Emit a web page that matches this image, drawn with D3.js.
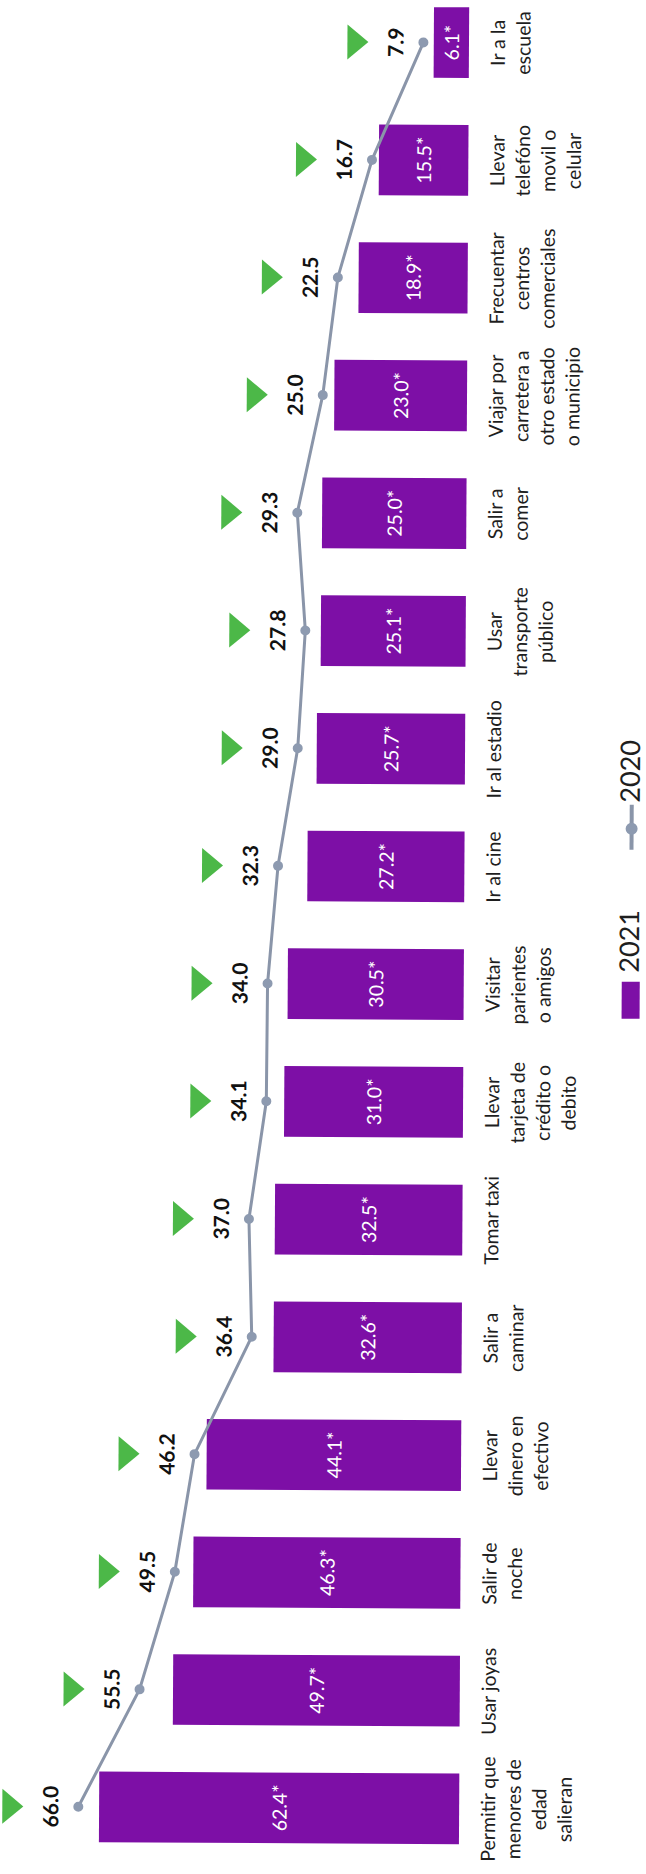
<!DOCTYPE html>
<html>
<head>
<meta charset="utf-8">
<script src="https://cdn.jsdelivr.net/npm/d3@7"></script>
<style>
	body { margin: 0; background: #fff; }
	svg { display: block; }
</style>
</head>
<body>
<div id="container"></div>
<script>
var WIDTH = 646,
	HEIGHT = 1874;

// the chart is laid out upright (HEIGHT wide, WIDTH tall) and then turned on its side
var BASE = 464,
	UNIT = 5.77,
	SKEW = 0.32;

var categories = [
	"Permitir que\nmenores de\nedad\nsalieran",
	"Usar joyas",
	"Salir de\nnoche",
	"Llevar\ndinero en\nefectivo",
	"Salir a\ncaminar",
	"Tomar taxi",
	"Llevar\ntarjeta de\ncrédito o\ndebito",
	"Visitar\nparientes\no amigos",
	"Ir al cine",
	"Ir al estadio",
	"Usar\ntransporte\npúblico",
	"Salir a\ncomer",
	"Viajar por\ncarretera a\notro estado\no municipio",
	"Frecuentar\ncentros\ncomerciales",
	"Llevar\ntelefóno\nmovil o\ncelular",
	"Ir a la\nescuela"
];
var values2021 = [62.4, 49.7, 46.3, 44.1, 32.6, 32.5, 31.0, 30.5, 27.2, 25.7, 25.1, 25.0, 23.0, 18.9, 15.5, 6.1];
var values2020 = [66.0, 55.5, 49.5, 46.2, 36.4, 37.0, 34.1, 34.0, 32.3, 29.0, 27.8, 29.3, 25.0, 22.5, 16.7, 7.9];
var seriesNames = ["2021", "2020"];

var PURPLE = "#7d0fa6",
	GREY = "#8a95a9",
	GREEN = "#4cb848";

var xScale = d3.scaleBand().domain(categories).range([7, 1891]).paddingInner(0.4).paddingOuter(0.2);
var yScale = d3.scaleLinear().domain([0, 70]).range([BASE, BASE - 70 * UNIT]);

var fmt = d3.format(".1f");

var svg = d3.select("#container")
	.append("svg")
	.attr("width", WIDTH)
	.attr("height", HEIGHT)
	.style("font-family", "Lato, 'Open Sans', sans-serif");

var chart = svg.append("g")
	.attr("transform", "rotate(" + SKEW + "," + WIDTH / 2 + "," + HEIGHT / 2 + ") translate(0," + HEIGHT + ") rotate(-90)");

function cx(i) {
	return xScale(categories[i]) + xScale.bandwidth() / 2;
}

// 2021 bars
chart.selectAll("rect.bar").data(values2021).enter()
	.append("rect")
	.classed("bar", true)
	.attr("x", function(d, i) { return xScale(categories[i]); })
	.attr("y", function(d) { return yScale(d); })
	.attr("width", xScale.bandwidth())
	.attr("height", function(d) { return yScale(0) - yScale(d); })
	.attr("fill", PURPLE);

chart.selectAll("text.barLabel").data(values2021).enter()
	.append("text")
	.classed("barLabel", true)
	.attr("x", function(d, i) { return cx(i); })
	.attr("y", function(d) { return (yScale(d) + yScale(0)) / 2; })
	.attr("text-anchor", "middle")
	.attr("dominant-baseline", "central")
	.attr("fill", "#fff")
	.style("font-size", "19.5px")
	.text(function(d) { return fmt(d) + "*"; });

// category labels under the baseline
var catText = chart.selectAll("text.cat").data(categories).enter()
	.append("text")
	.classed("cat", true)
	.attr("text-anchor", "middle")
	.attr("fill", "#1e1e1e")
	.style("font-size", "19.5px");
catText.selectAll("tspan").data(function(d, i) {
		return d.split("\n").map(function(s) { return { s: s, i: i }; });
	}).enter()
	.append("tspan")
	.attr("x", function(d) { return cx(d.i); })
	.attr("y", function(d, j) { return yScale(0) + 36 + j * 25.5; })
	.text(function(d) { return d.s; });

// 2020 line
var line = d3.line()
	.x(function(d, i) { return cx(i); })
	.y(function(d) { return yScale(d); });

chart.append("path")
	.attr("d", line(values2020))
	.attr("fill", "none")
	.attr("stroke", GREY)
	.attr("stroke-width", 3);

chart.selectAll("circle.pt").data(values2020).enter()
	.append("circle")
	.classed("pt", true)
	.attr("cx", function(d, i) { return cx(i); })
	.attr("cy", function(d) { return yScale(d); })
	.attr("r", 5)
	.attr("fill", "#8d9ab0");

chart.selectAll("text.lineLabel").data(values2020).enter()
	.append("text")
	.classed("lineLabel", true)
	.attr("x", function(d, i) { return cx(i); })
	.attr("y", function(d) { return yScale(d) - 20; })
	.attr("text-anchor", "middle")
	.attr("fill", "#111")
	.style("font-size", "21px")
	.style("font-weight", "bold")
	.text(function(d) { return fmt(d); });

// green down markers above each 2020 label
chart.selectAll("path.tri").data(values2020).enter()
	.append("path")
	.classed("tri", true)
	.attr("d", function(d, i) {
		var c = cx(i), y = yScale(d);
		return d3.line()([[c - 17.5, y - 76], [c + 17.5, y - 76], [c, y - 55]]) + "Z";
	})
	.attr("fill", GREEN);

// legend
var legend = chart.append("g");
legend.append("rect")
	.attr("x", 857).attr("y", 622)
	.attr("width", 37).attr("height", 18)
	.attr("fill", PURPLE);
legend.append("text")
	.attr("x", 903).attr("y", 639)
	.attr("fill", "#1e1e1e")
	.style("font-size", "27px")
	.text(seriesNames[0]);
legend.append("line")
	.attr("x1", 1026).attr("x2", 1071)
	.attr("y1", 631).attr("y2", 631)
	.attr("stroke", GREY)
	.attr("stroke-width", 4);
legend.append("circle")
	.attr("cx", 1047).attr("cy", 631).attr("r", 6)
	.attr("fill", "#8d9ab0");
legend.append("text")
	.attr("x", 1073).attr("y", 639)
	.attr("fill", "#1e1e1e")
	.style("font-size", "27px")
	.text(seriesNames[1]);
</script>
</body>
</html>
